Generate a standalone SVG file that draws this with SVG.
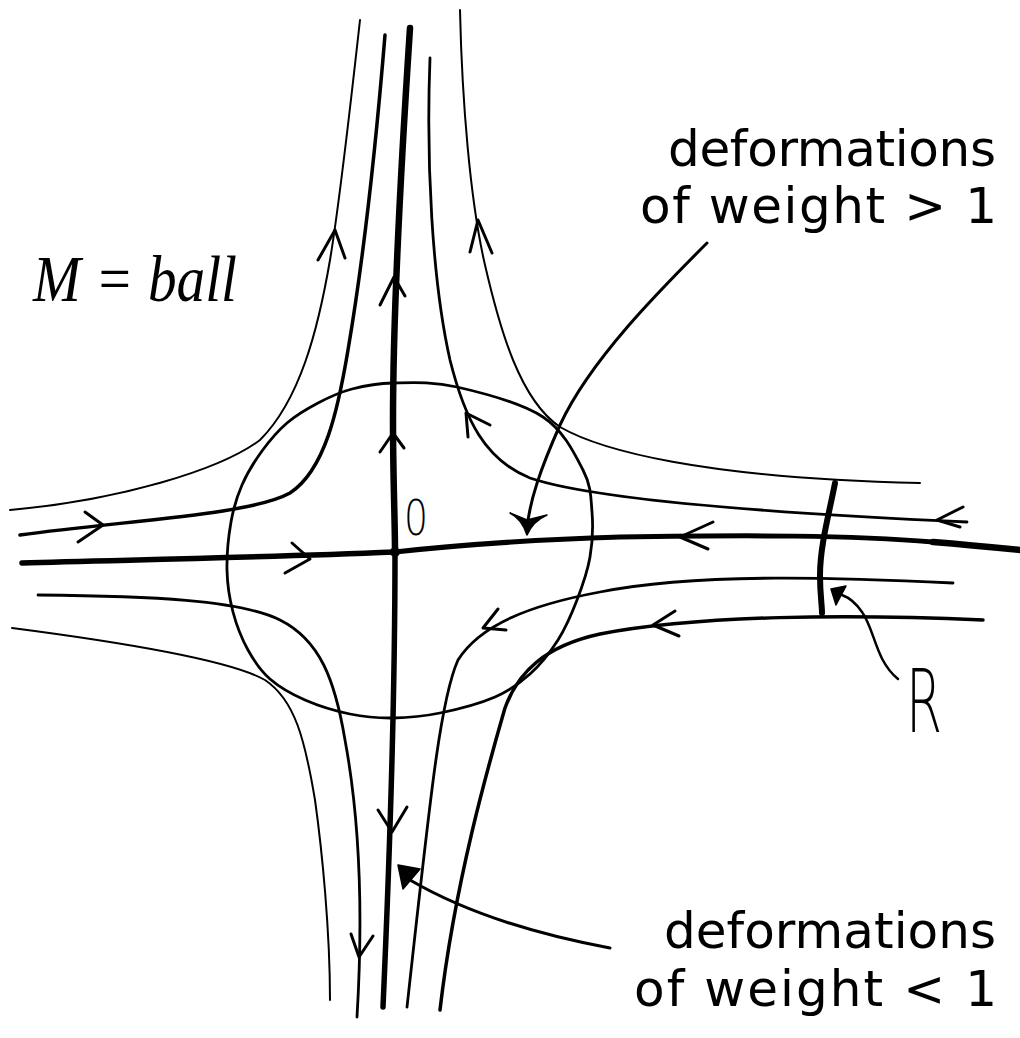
<svg xmlns="http://www.w3.org/2000/svg" width="1020" height="1038" viewBox="0 0 1020 1038">
<style>
.ln{fill:none;stroke:#000;stroke-linecap:round;stroke-linejoin:round}
.thin{stroke-width:2}
.med{stroke-width:2.8}
.thick{stroke-width:3.5}
.axis{stroke-width:5.5}
.head{fill:none;stroke:#000;stroke-width:3;stroke-linecap:round;stroke-linejoin:round}
.solid{fill:#000;stroke:#000;stroke-width:1.5;stroke-linejoin:round}
.lbl{font-family:"DejaVu Sans","Liberation Sans",sans-serif;font-size:50px;fill:#000}
.hand{font-family:"DejaVu Sans","Liberation Sans",sans-serif;font-weight:200;fill:#000}
</style>
<rect width="1020" height="1038" fill="#fff"/>

<g id="ball">
<path class="ln med" d="M 393 383 C 410.5 382.7, 432 381.3, 457 387 S 522 403.2, 543 417 S 574.8 454.2, 583 470 S 590.8 497.5, 592 512 S 592.5 542.3, 590 557 S 582.3 586.2, 577 600 S 565.8 627.7, 558 640 S 540.5 664.5, 530 674 S 510 690.5, 495 697 S 457 709.5, 440 713 S 408 717.8, 393 718 S 364.7 717, 350 714 S 318.3 705.8, 305 700 S 279.5 687.3, 270 679 S 254.2 661.2, 248 650 S 236.5 625.3, 233 612 S 227.3 585, 227 570 S 228.5 536.2, 231 522 S 236.8 496.8, 242 485 S 254.5 461.3, 262 451 S 277.7 431, 287 423 S 307.2 408.7, 318 403 S 339.5 392.3, 352 389 S 375.5 383.3, 393 383 Z"/>
</g>

<g id="connectors">
<!-- main axes -->
<path class="ln" stroke-width="6.5" d="M 410 28 C 402 150, 393 300, 393 420 C 393 480, 395 520, 395 553"/>
<path class="ln axis" d="M 395 553 C 395 700, 390 850, 383 1007"/>
<path class="ln axis" d="M 22 563 C 120 560, 250 558, 395 552"/>
<path class="ln" stroke-width="5" d="M 395 552 C 450 546, 520 540, 620 537 C 750 535, 850 535, 933 542"/>
<path class="ln" stroke-width="6.5" d="M 933 542 C 970 545, 1000 548, 1020 550"/>
<circle cx="395" cy="552" r="5" fill="#000"/>
<!-- axis arrows -->
<path class="head" d="M 380 305 L 394 277 L 405 296"/>
<path class="head" d="M 380 452 L 393 433 L 404 448"/>
<path class="head" d="M 378 810 L 392 832 L 407 807"/>
<path class="head" d="M 292 543 L 310 559 L 285 573"/>
<path class="head" d="M 713 522 L 680 537 L 708 549"/>

<!-- upper-left streamlines -->
<path class="ln thin" d="M 360 20 C 350 110, 340 200, 330 260 C 318 330, 300 400, 260 440 C 220 470, 120 500, 10 510"/>
<path class="head" stroke-width="2.5" d="M 318 260 L 335 230 L 345 258"/>
<path class="ln thick" d="M 385 35 C 378 120, 365 250, 348 350 C 338 410, 325 470, 290 493 C 250 515, 130 520, 20 535"/>
<path class="head" d="M 85 512 L 103 525 L 78 542"/>

<!-- upper-right streamlines -->
<path class="ln med" d="M 430 58 C 426 160, 432 280, 450 360 C 465 420, 485 460, 530 478 C 580 495, 700 510, 967 522"/>
<path class="head" d="M 468 437 L 466 413 L 490 425"/>
<path class="head" stroke-width="2.5" d="M 963 507 L 937 520 L 960 527"/>
<path class="ln thin" d="M 460 10 C 462 100, 470 200, 485 265 C 500 330, 520 400, 560 427 C 600 450, 700 478, 920 483"/>
<path class="head" stroke-width="2.5" d="M 470 252 L 478 220 L 492 253"/>

<!-- lower-left streamlines -->
<path class="ln med" d="M 38 595 C 150 596, 240 600, 280 620 C 320 640, 335 680, 345 740 C 358 810, 364 900, 357 1017"/>
<path class="head" d="M 351 934 L 359 957 L 373 936"/>
<path class="ln thin" d="M 12 628 C 120 642, 230 660, 265 680 C 295 700, 305 740, 315 800 C 322 850, 330 930, 330 1000"/>

<!-- lower-right streamlines -->
<path class="ln med" d="M 953 583 C 850 578, 700 572, 600 592 C 530 605, 480 625, 458 660 C 440 700, 430 800, 407 1007"/>
<path class="head" d="M 498 609 L 483 628 L 506 630"/>
<path class="ln thick" d="M 983 620 C 850 614, 700 615, 600 634 C 545 646, 518 672, 505 708 C 490 760, 455 880, 440 1010"/>
<path class="head" d="M 675 611 L 653 625 L 679 636"/>

<!-- R section -->
<path class="ln" stroke-width="6" d="M 835 483 C 830 510, 820 545, 820 575 C 820 595, 822 605, 822 613"/>

<!-- pointer arrows -->
<path class="ln" stroke-width="3" d="M 707 243 C 660 290, 590 360, 560 425 C 540 470, 530 500, 527 528"/>
<path class="solid" d="M 527 535 Q 522 519 510 513 L 527 520 L 547 515 Q 533 521 527 535 Z"/>
<path class="ln" stroke-width="3" d="M 610 948 C 540 935, 470 915, 410 880"/>
<path class="solid" d="M 398 865 L 420 869 L 403 889 Z"/>
<path class="ln" stroke-width="2.5" d="M 898 679 C 875 660, 875 630, 862 612 C 856 603, 850 598, 842 595"/>
<path class="solid" d="M 831 589 L 846 586 L 836 605 Z"/>
</g>

<g id="label-M">
<text x="33" y="301" font-family="'Liberation Serif','DejaVu Serif',serif" font-style="italic" font-size="66" textLength="204" lengthAdjust="spacingAndGlyphs">M = ball</text>
</g>
<g id="label-O">
<text class="hand" x="404" y="535" font-size="50" textLength="24" lengthAdjust="spacingAndGlyphs">0</text>
</g>
<g id="label-R">
<text class="hand" x="906" y="732" font-size="88" textLength="36" lengthAdjust="spacingAndGlyphs">R</text>
</g>
<g id="label-weight-gt">
<text class="lbl" x="668" y="166" textLength="328">deformations</text>
<text class="lbl" x="640" y="223" textLength="357">of weight &gt; 1</text>
</g>
<g id="label-weight-lt">
<text class="lbl" x="664" y="948" textLength="332">deformations</text>
<text class="lbl" x="634" y="1006" textLength="363">of weight &lt; 1</text>
</g>
</svg>
